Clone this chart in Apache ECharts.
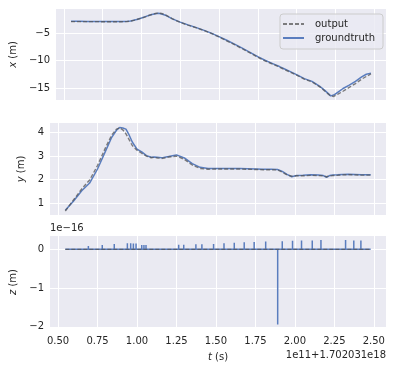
<!DOCTYPE html>
<html>
<head>
<meta charset="utf-8">
<script src="https://cdn.jsdelivr.net/npm/echarts@6/dist/echarts.min.js"></script>
<style>
html,body{margin:0;padding:0;background:#fff;}
#chart{width:396px;height:372px;}
</style>
</head>
<body>
<div id="chart"></div>
<script>
// ---- data ----
const tSamples = [0.546, 0.60, 0.65, 0.70, 0.75, 0.80, 0.84, 0.87, 0.89, 0.91, 0.93, 0.95, 0.97, 1.00, 1.03, 1.06, 1.09, 1.11, 1.13, 1.16, 1.20, 1.25, 1.30, 1.35, 1.40, 1.45, 1.50, 1.55, 1.60, 1.65, 1.70, 1.75, 1.80, 1.85, 1.89, 1.92, 1.95, 1.98, 2.01, 2.05, 2.10, 2.15, 2.18, 2.20, 2.22, 2.24, 2.27, 2.30, 2.34, 2.38, 2.42, 2.45, 2.48];
const xGroundtruth = [-2.85, -2.85, -2.86, -2.86, -2.87, -2.88, -2.88, -2.88, -2.87, -2.85, -2.8, -2.65, -2.5, -2.25, -1.95, -1.65, -1.45, -1.38, -1.5, -1.8, -2.4, -3.0, -3.5, -3.95, -4.45, -5.0, -5.65, -6.3, -7.0, -7.75, -8.5, -9.3, -10.0, -10.6, -11.1, -11.5, -11.9, -12.3, -12.7, -13.3, -13.8, -14.7, -15.4, -15.9, -16.45, -16.3, -15.7, -15.1, -14.5, -13.8, -13.0, -12.5, -12.3];
const xOutput = [-2.9, -2.9, -2.9, -2.9, -2.92, -2.92, -2.93, -2.92, -2.9, -2.88, -2.82, -2.68, -2.52, -2.28, -1.98, -1.66, -1.42, -1.33, -1.42, -1.75, -2.4, -3.05, -3.55, -4.0, -4.5, -5.05, -5.7, -6.4, -7.1, -7.85, -8.6, -9.4, -10.1, -10.7, -11.2, -11.6, -12.0, -12.4, -12.8, -13.4, -13.9, -14.8, -15.5, -16.0, -16.45, -16.55, -16.1, -15.6, -14.9, -14.2, -13.4, -12.9, -12.45];
const yGroundtruth = [0.69, 1.1, 1.52, 1.85, 2.45, 3.2, 3.8, 4.1, 4.22, 4.2, 4.15, 3.9, 3.6, 3.3, 3.18, 3.02, 2.95, 2.96, 2.95, 2.93, 2.98, 3.05, 2.92, 2.68, 2.52, 2.47, 2.47, 2.47, 2.47, 2.47, 2.46, 2.45, 2.44, 2.44, 2.43, 2.35, 2.22, 2.12, 2.17, 2.18, 2.2, 2.19, 2.17, 2.1, 2.17, 2.19, 2.2, 2.22, 2.23, 2.22, 2.21, 2.2, 2.2];
const yOutput = [0.66, 1.15, 1.6, 1.98, 2.6, 3.35, 3.9, 4.15, 4.2, 4.12, 3.95, 3.7, 3.45, 3.25, 3.12, 3.0, 2.93, 2.95, 2.92, 2.9, 2.96, 3.0, 2.86, 2.62, 2.47, 2.44, 2.45, 2.45, 2.45, 2.45, 2.44, 2.43, 2.42, 2.42, 2.41, 2.32, 2.2, 2.14, 2.16, 2.16, 2.18, 2.17, 2.16, 2.12, 2.15, 2.17, 2.18, 2.2, 2.21, 2.2, 2.19, 2.19, 2.19];
// z (in units of 1e-16): groundtruth is zero except single-sample spikes
const zSpikeT = [0.565, 0.58, 0.692, 0.780, 0.856, 0.939, 0.960, 0.977, 0.994, 1.030, 1.044, 1.057, 1.264, 1.296, 1.373, 1.411, 1.485, 1.551, 1.616, 1.679, 1.742, 1.815, 1.891, 1.920, 1.985, 2.042, 2.110, 2.165, 2.321, 2.373, 2.418];
const zSpikeV = [0.04, 0.04, 0.085, 0.11, 0.14, 0.16, 0.16, 0.15, 0.15, 0.11, 0.11, 0.11, 0.12, 0.12, 0.13, 0.13, 0.14, 0.16, 0.17, 0.18, 0.19, 0.2, -1.94, 0.21, 0.22, 0.23, 0.23, 0.24, 0.24, 0.23, 0.23];
const zOutputT = [0.546, 2.48];
const zOutputV = [0, 0];
const xTicks = [0.5, 0.75, 1.0, 1.25, 1.5, 1.75, 2.0, 2.25, 2.5];
const xTickLabels = ['0.50', '0.75', '1.00', '1.25', '1.50', '1.75', '2.00', '2.25', '2.50'];
const xPosTicks = [-15, -10, -5];
const yPosTicks = [1, 2, 3, 4];
const zPosTicks = [-2, -1, 0];
const offsetText = '1e11+1.702031e18';
const zScaleText = '1e\u221216';

// ---- build ----
const pair = (ts, vs) => ts.map((t, i) => [t, vs[i]]);
const zGT = [[tSamples[0], 0]];
zSpikeT.forEach((t, i) => { zGT.push([t, 0], [t, zSpikeV[i]], [t, 0]); });
zGT.push([tSamples[tSamples.length - 1], 0]);

const FONT = 'DejaVu Sans';
const TXT = '#262626';
const BLUE = '#5A7DBE';
const GRAY = '#555555';
const fmtNum = v => (v < 0 ? '\u2212' + Math.abs(v) : String(v));

const grids = [
  { left: 50, right: 10, top: 9, height: 91 },
  { left: 50, right: 10, top: 123, height: 92 },
  { left: 50, right: 10, top: 236, height: 92 }
].map(g => Object.assign(g, { show: true, backgroundColor: '#EAEAF2', borderWidth: 0 }));

function xAx(i, showLabels) {
  return {
    type: 'value', gridIndex: i, min: 0.449, max: 2.577,
    axisLine: { show: false },
    axisTick: { show: false, customValues: xTicks },
    splitLine: { show: true, lineStyle: { color: '#ffffff', width: 1 } },
    axisLabel: {
      show: showLabels, customValues: xTicks, margin: 8,
      fontFamily: FONT, fontSize: 10, color: TXT,
      formatter: v => xTickLabels[xTicks.indexOf(v)] ?? v.toFixed(2)
    },
    name: showLabels ? '{i|t} (s)' : '', nameLocation: 'middle', nameGap: 24,
    nameTextStyle: { fontFamily: FONT, fontSize: 10, color: TXT,
      rich: { i: { fontStyle: 'italic', fontFamily: FONT, fontSize: 10, color: TXT } } }
  };
}
function yAx(i, min, max, ticks, name, gap) {
  return {
    type: 'value', gridIndex: i, min: min, max: max,
    axisLine: { show: false },
    axisTick: { show: false, customValues: ticks },
    splitLine: { show: true, lineStyle: { color: '#ffffff', width: 1 } },
    axisLabel: { customValues: ticks, margin: 6, fontFamily: FONT, fontSize: 10, color: TXT, formatter: fmtNum },
    name: name, nameLocation: 'middle', nameRotate: 90, nameGap: gap,
    nameTextStyle: { fontFamily: FONT, fontSize: 10, color: TXT,
      rich: { i: { fontStyle: 'italic', fontFamily: FONT, fontSize: 10, color: TXT } } }
  };
}

const gtLine = { color: BLUE, width: 1.5 };
const outLine = { color: GRAY, width: 1.4, type: [4, 2], opacity: 0.75 };
function ser(name, i, data, ls) {
  return { name: name, type: 'line', xAxisIndex: i, yAxisIndex: i, data: data,
    showSymbol: false, symbol: 'none', animation: false, lineStyle: ls, itemStyle: { color: ls.color } };
}

const option = {
  animation: false,
  grid: grids,
  xAxis: [xAx(0, false), xAx(1, false), xAx(2, true)],
  yAxis: [
    yAx(0, -17.2, -0.6, xPosTicks, '{i|x} (m)', 37),
    yAx(1, 0.49, 4.41, yPosTicks, '{i|y} (m)', 20),
    yAx(2, -2.03, 0.344, zPosTicks, '{i|z} (m)', 28)
  ],
  legend: {
    data: ['output', 'groundtruth'], orient: 'vertical', left: 280, top: 14,
    itemWidth: 21, itemHeight: 10, itemGap: 4, padding: [5, 8, 6, 2],
    itemStyle: { opacity: 0 },
    backgroundColor: 'rgba(234,234,242,0.8)', borderColor: '#cccccc', borderWidth: 1, borderRadius: 3,
    textStyle: { fontFamily: FONT, fontSize: 10, color: TXT, padding: [0, 0, 0, 6] }
  },
  graphic: [
    { type: 'text', left: 50, top: 223, style: { text: zScaleText, font: '10px "DejaVu Sans"', fill: TXT } },
    { type: 'text', right: 10, top: 350, style: { text: offsetText, font: '10px "DejaVu Sans"', fill: TXT } }
  ],
  series: [
    ser('groundtruth', 0, pair(tSamples, xGroundtruth), gtLine),
    ser('output', 0, pair(tSamples, xOutput), outLine),
    ser('groundtruth', 1, pair(tSamples, yGroundtruth), gtLine),
    ser('output', 1, pair(tSamples, yOutput), outLine),
    ser('groundtruth', 2, zGT, gtLine),
    ser('output', 2, pair(zOutputT, zOutputV), outLine)
  ]
};
const chart = echarts.init(document.getElementById('chart'), null, { renderer: 'canvas' });
chart.setOption(option);
</script>
</body>
</html>
